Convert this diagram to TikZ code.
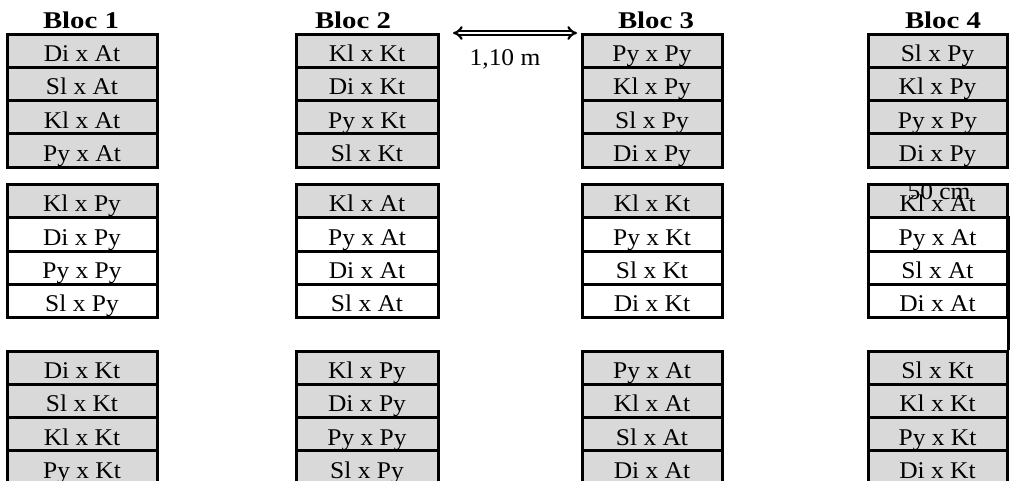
\documentclass[tikz,border=0pt]{standalone}
\usepackage{fontspec}
\setmainfont{Liberation Serif}
\newfontfamily\cellfont{Liberation Serif}[FakeStretch=1.06]
\newfontfamily\hdfont{Liberation Serif}[FakeStretch=1.2]
\usetikzlibrary{arrows.meta}
\definecolor{cellgray}{RGB}{217,217,217}
\tikzset{
  cell/.style={draw=black, line width=3pt, inner sep=0pt, minimum height=33.3pt,
    text height=21.5pt, text depth=0pt, font=\cellfont\fontsize{24}{24}\selectfont},
  header/.style={anchor=base, inner sep=0pt, font=\hdfont\bfseries\fontsize{24}{24}\selectfont},
  dimlabel/.style={anchor=base, inner sep=0pt, font=\cellfont\fontsize{24}{24}\selectfont},
  dimarrow/.style={double, double distance=2.2pt, line width=2.2pt, {Implies[length=7pt,width=12pt]}-{Implies[length=7pt,width=12pt]}},
  guide/.style={line width=3pt},
}
% #1 prefix, #2 centre x, #3 width, #4 top y, #5 texts, #6 fill of rows 2-4
\newcommand\stackcells[6]{%
  \foreach \t [count=\i] in {#5}{%
    \ifnum\i=1 \def\fc{cellgray}\else\def\fc{#6}\fi
    \node[cell, fill=\fc, minimum width=#3pt] (#1-\i) at (#2, {#4+16.65+(\i-1)*33.3}) {\t};
  }}
\begin{document}
\begin{tikzpicture}[x=1pt,y=-1pt]
\useasboundingbox (0,0) rectangle (1011,480);
% headers
\node[header] (h1) at (81,28) {Bloc 1};
\node[header] (h2) at (353,28) {Bloc 2};
\node[header] (h3) at (656,28) {Bloc 3};
\node[header] (h4) at (943,28) {Bloc 4};
% Bloc 1
\stackcells{b1t}{82}{150}{34}{Di x At,Sl x At,Kl x At,Py x At}{cellgray}
\stackcells{b1m}{82}{150}{184.5}{Kl x Py,Di x Py,Py x Py,Sl x Py}{white}
\stackcells{b1b}{82}{150}{351}{Di x Kt,Sl x Kt,Kl x Kt,Py x Kt}{cellgray}
% Bloc 2
\stackcells{b2t}{367}{142}{34}{Kl x Kt,Di x Kt,Py x Kt,Sl x Kt}{cellgray}
\stackcells{b2m}{367}{142}{184.5}{Kl x At,Py x At,Di x At,Sl x At}{white}
\stackcells{b2b}{367}{142}{351}{Kl x Py,Di x Py,Py x Py,Sl x Py}{cellgray}
% Bloc 3
\stackcells{b3t}{652}{140}{34}{Py x Py,Kl x Py,Sl x Py,Di x Py}{cellgray}
\stackcells{b3m}{652}{140}{184.5}{Kl x Kt,Py x Kt,Sl x Kt,Di x Kt}{white}
\stackcells{b3b}{652}{140}{351}{Py x At,Kl x At,Sl x At,Di x At}{cellgray}
% Bloc 4
\stackcells{b4t}{937.5}{139}{34}{Sl x Py,Kl x Py,Py x Py,Di x Py}{cellgray}
\stackcells{b4m}{937.5}{139}{184.5}{Kl x At,Py x At,Sl x At,Di x At}{white}
\stackcells{b4b}{937.5}{139}{351}{Sl x Kt,Kl x Kt,Py x Kt,Di x Kt}{cellgray}
% dimension 1,10 m
\coordinate (a1) at (453,33);
\coordinate (a2) at (577,33);
\draw[dimarrow] (a1) -- (a2);
\node[dimlabel] (d1) at (505,65) {1,10 m};
% dimension 50 cm
\draw[guide] (b4m-2.north east) -- (b4b-1.north east);
\node[dimlabel] (d2) at (939,199) {50 cm};
\end{tikzpicture}
\end{document}
